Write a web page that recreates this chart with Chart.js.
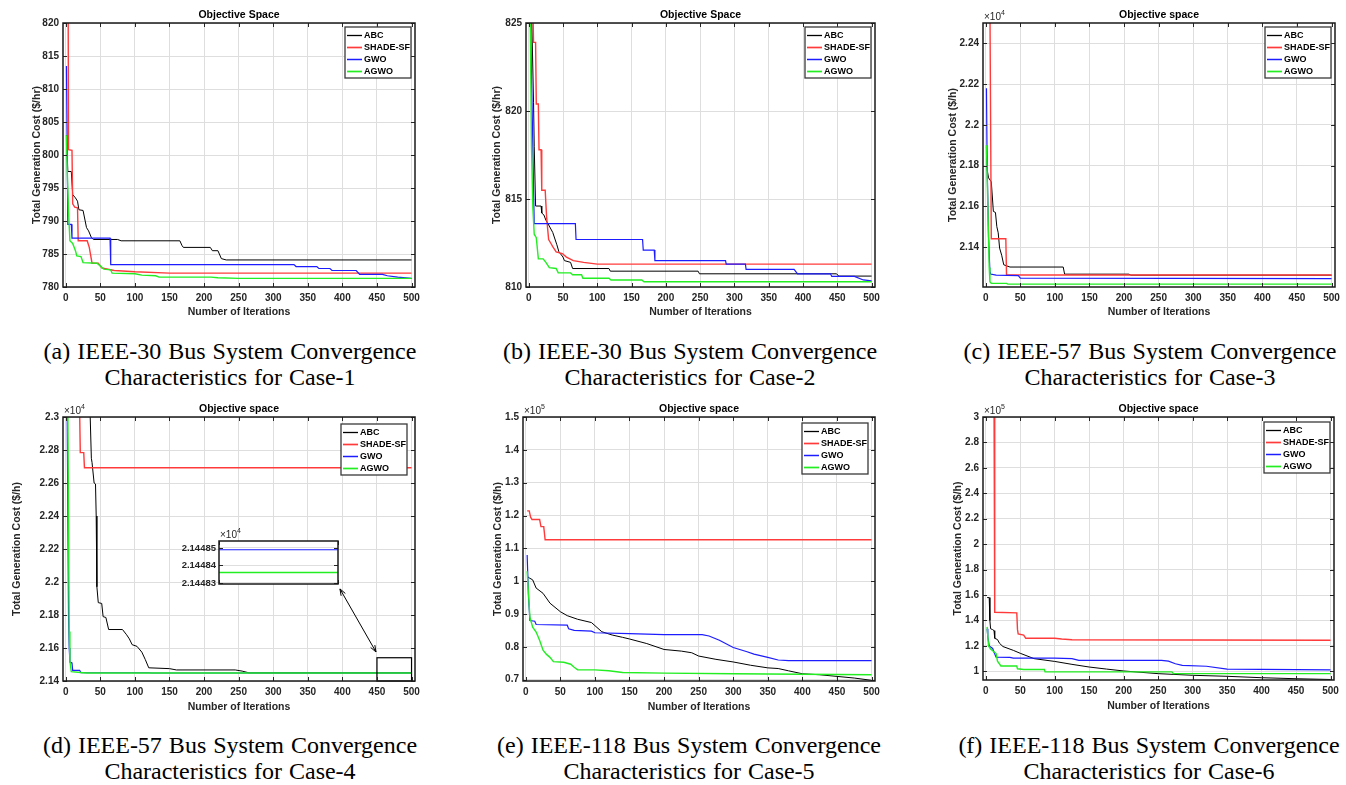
<!DOCTYPE html>
<html>
<head>
<meta charset="utf-8">
<script src="https://cdn.jsdelivr.net/npm/chart.js@4.4.1/dist/chart.umd.min.js"></script>
<style>
    body { margin: 0; background: #fff; width: 1346px; height: 785px; position: relative; overflow: hidden; }
    canvas { position: absolute; }
    .cap {
        position: absolute; width: 440px; text-align: center; white-space: nowrap;
        font-family: "Liberation Serif", "Times New Roman", serif; font-size: 24px; line-height: 26px;
        word-spacing: 1px; color: #000;
    }
</style>
</head>
<body>
<div class="cap" style="left:10px;top:338px">(a) IEEE-30 Bus System Convergence<br>Characteristics for Case-1</div>
<div class="cap" style="left:470px;top:338px">(b) IEEE-30 Bus System Convergence<br>Characteristics for Case-2</div>
<div class="cap" style="left:930px;top:338px">(c) IEEE-57 Bus System Convergence<br>Characteristics for Case-3</div>
<div class="cap" style="left:10px;top:732px">(d) IEEE-57 Bus System Convergence<br>Characteristics for Case-4</div>
<div class="cap" style="left:469px;top:732px">(e) IEEE-118 Bus System Convergence<br>Characteristics for Case-5</div>
<div class="cap" style="left:929px;top:732px">(f) IEEE-118 Bus System Convergence<br>Characteristics for Case-6</div>
<script>
'use strict';

// Series order everywhere: ABC, SHADE-SF, GWO, AGWO
var seriesNames = ['ABC', 'SHADE-SF', 'GWO', 'AGWO'];
var iterTicks = [0, 50, 100, 150, 200, 250, 300, 350, 400, 450, 500];

// (a) IEEE-30, Case-1  -- [iteration, cost]
var aAbc = [[1,803],[3,797.5],[8,797.5],[10,794],[14,793.5],[17,793],[19,791.7],[25,791.6],[30,789],[33,788.5],[37,787.5],[40,787.2],[75,787.2],[80,787],[165,787],[168,786.3],[170,786],[209,786],[212,785.5],[220,785.5],[225,784.3],[232,784.1],[500,784.1]];
var aShade = [[3,840],[4,800.8],[9,800.7],[10,792.6],[13,792.1],[17,792],[18,787],[31,787],[34,786],[38,783.6],[47,783.6],[52,782.9],[70,782.5],[100,782.3],[150,782.1],[500,782.1]];
var aGwo = [[1,813.5],[3,789.5],[8,789.5],[9,787.4],[64,787.4],[65,783.4],[330,783.4],[333,783.1],[363,783.1],[366,782.8],[382,782.8],[385,782.5],[420,782.5],[425,781.9],[458,781.9],[465,781.7],[480,781.5],[500,781.3]];
var aAgwo = [[1,803],[2,798],[4,791.5],[6,787],[10,786.6],[14,785.5],[16,784.7],[22,784.6],[25,783.7],[45,783.6],[50,783.2],[55,782.7],[65,782.6],[67,782.1],[100,782],[110,781.8],[130,781.7],[135,781.5],[210,781.5],[220,781.4],[250,781.3],[500,781.3]];
var aYTicks = [780, 785, 790, 795, 800, 805, 810, 815, 820];

// (b) IEEE-30, Case-2
var bAbc = [[4,826],[7,820.5],[8,818],[10,814.6],[18,814.6],[19,814.2],[22,814.1],[25,813.8],[28,813.6],[35,813.1],[41,812.4],[44,812],[50,811.7],[52,811.5],[61,811.4],[64,811.05],[117,811.05],[119,810.9],[247,810.9],[249,810.75],[449,810.75],[452,810.62],[500,810.62]];
var bShade = [[6,826],[7,823.9],[10,823.9],[11,820.4],[14,820.4],[15,817.8],[18,817.8],[19,815.5],[24,815.5],[26,814],[29,812.7],[32,812.5],[35,812.3],[40,812],[49,811.9],[55,811.7],[65,811.5],[80,811.4],[100,811.3],[500,811.3]];
var bGwo = [[2,826],[5,820],[8,813.6],[68,813.6],[69,812.7],[166,812.7],[167,812.1],[183,812.1],[184,811.5],[287,811.5],[288,811.3],[316,811.3],[317,811],[387,811],[392,810.75],[440,810.75],[442,810.6],[475,810.6],[488,810.4],[500,810.35]];
var bAgwo = [[2,826],[4,818],[6,814.5],[8,813],[11,812.8],[14,811.6],[21,811.6],[25,811.4],[30,811.1],[40,811.05],[43,810.8],[61,810.8],[64,810.7],[77,810.7],[79,810.5],[117,810.5],[120,810.4],[165,810.4],[168,810.3],[500,810.3]];
var bYTicks = [810, 815, 820, 825];

// (c) IEEE-57, Case-3
var cAbc = [[1,21890],[2,21780],[4,21740],[8,21720],[11,21575],[14,21570],[16,21500],[18,21470],[20,21395],[23,21360],[26,21313],[35,21302],[112,21302],[114,21267],[207,21267],[210,21262],[500,21262]];
var cShade = [[6,22600],[8,21441],[29,21441],[30,21263],[500,21263]];
var cGwo = [[1,22180],[2,21800],[4,21450],[6,21280],[7,21268],[15,21262],[47,21260],[50,21248],[500,21245]];
var cAgwo = [[1,21900],[3,21600],[5,21300],[6,21230],[8,21222],[30,21222],[32,21218],[500,21218]];
var cYTicks = [21400, 21600, 21800, 22000, 22200, 22400];

// (d) IEEE-57, Case-4
var dAbc = [[35,23050],[37,22750],[38,22724],[41,22600],[43,22594],[44,22400],[45,21971],[47,21875],[52,21870],[54,21790],[58,21785],[62,21712],[82,21712],[88,21680],[92,21655],[96,21620],[103,21610],[110,21575],[115,21530],[120,21480],[150,21475],[160,21467],[245,21467],[255,21460],[265,21449.5],[500,21449.5]];
var dShade = [[20,23050],[21,22784],[26,22784],[27,22692],[500,22692]];
var dGwo = [[2,23050],[4,21800],[5,21600],[6,21515],[9,21510],[10,21465],[20,21465],[22,21451],[120,21450],[125,21448.49],[500,21448.49]];
var dAgwo = [[3,23050],[5,21700],[6,21520],[8,21457],[25,21450],[30,21448.36],[500,21448.36]];
var dYTicks = [21400, 21600, 21800, 22000, 22200, 22400, 22600, 22800, 23000];
var insetYTicks = [21448.3, 21448.4, 21448.5];

// (e) IEEE-118, Case-5
var eAbc = [[2,101500],[5,101000],[10,100400],[15,97900],[25,96300],[35,93300],[50,90700],[60,89500],[75,88400],[95,87400],[110,84600],[125,83600],[140,82900],[150,82400],[175,81000],[200,79200],[225,78700],[240,78200],[250,77200],[275,76200],[300,75400],[325,74400],[350,73600],[365,73400],[380,72700],[400,71800],[425,71500],[450,71000],[475,70500],[500,69800]];
var eShade = [[2,121400],[5,121400],[7,119500],[9,118800],[20,118800],[22,116600],[26,116600],[28,112600],[500,112600]];
var eGwo = [[2,108000],[4,95000],[6,88000],[13,87800],[15,86800],[60,86600],[62,85500],[70,85000],[95,84800],[100,84300],[150,84000],[200,83700],[255,83700],[265,83300],[280,82000],[300,79800],[320,78500],[330,77800],[350,76800],[365,76000],[380,75800],[500,75800]];
var eAgwo = [[2,103000],[4,96000],[6,89000],[10,86000],[15,84500],[20,82000],[25,79000],[30,77700],[35,76800],[40,75500],[55,75300],[65,74700],[70,73800],[75,73000],[100,73000],[120,72700],[140,72200],[200,72000],[300,71800],[500,71500]];
var eYTicks = [70000, 80000, 90000, 100000, 110000, 120000, 130000, 140000, 150000];

// (f) IEEE-118, Case-6
var fAbc = [[2,158000],[5,158000],[6,140000],[7,133500],[10,132800],[12,132000],[13,126000],[17,125000],[20,122000],[25,119500],[40,116500],[50,114200],[70,110000],[100,107800],[125,105500],[150,103400],[175,101800],[200,100300],[250,98200],[300,96900],[350,96100],[400,95000],[450,94200],[500,93600]];
var fShade = [[12,310000],[13,146500],[45,146000],[46,133000],[47,129500],[55,128500],[58,126000],[100,126000],[110,125400],[125,124800],[500,124500]];
var fGwo = [[2,133500],[3,127000],[5,120000],[10,118000],[12,115000],[15,111200],[35,111000],[40,110400],[100,110400],[125,110000],[135,108700],[255,108700],[265,108000],[275,106000],[285,104700],[320,104000],[350,101800],[500,101200]];
var fAgwo = [[2,135000],[4,120000],[7,117500],[15,114000],[17,108000],[22,104200],[45,104200],[46,102000],[55,101500],[85,101500],[86,99600],[270,99600],[272,98200],[500,98200]];
var fYTicks = [100000, 120000, 140000, 160000, 180000, 200000, 220000, 240000, 260000, 280000, 300000];

// styles
var FONT = '"Liberation Sans", Arial, Helvetica, sans-serif';
var TEXT = '#262626';
var lineColors = ['#000000', '#ff3a3a', '#1c1cff', '#22ee22'];
var lineWidths = [1, 1.4, 1.2, 1.4];

function toDataset(pts, i) {
    return {
        label: seriesNames[i],
        data: pts.map(function(p) { return { x: p[0], y: p[1] }; }),
        borderColor: lineColors[i],
        borderWidth: lineWidths[i],
        pointRadius: 0,
        tension: 0,
        fill: false,
        order: 4 - i
    };
}

function drawArrowHead(ctx, x, y, ang) {
    var len = 7, spread = 0.35;
    ctx.beginPath();
    ctx.moveTo(x - len * Math.cos(ang - spread), y - len * Math.sin(ang - spread));
    ctx.lineTo(x, y);
    ctx.lineTo(x - len * Math.cos(ang + spread), y - len * Math.sin(ang + spread));
    ctx.stroke();
}

// MATLAB-like axes: box, inward ticks, titles, exponent, legend, annotations
var matlabAxes = {
    id: 'matlabAxes',
    beforeDraw: function(chart) {
        var p = chart.canvas._panel, a = chart.chartArea, ctx = chart.ctx;
        if (p && p.whiteArea) {
            ctx.save();
            ctx.fillStyle = '#fff';
            ctx.fillRect(a.left, a.top, a.right - a.left, a.bottom - a.top);
            ctx.restore();
        }
    },
    afterDraw: function(chart) {
        var p = chart.canvas._panel;
        if (!p) return;
        var ctx = chart.ctx, a = chart.chartArea;
        var xs = chart.scales.x, ys = chart.scales.y;
        var cx = (a.left + a.right) / 2, cy = (a.top + a.bottom) / 2;
        ctx.save();

        // zoom box + arrow (panel d)
        if (p.zoomBox) {
            var b = p.zoomBox;
            var x0 = xs.getPixelForValue(b[0]), x1 = xs.getPixelForValue(b[1]);
            var y0 = ys.getPixelForValue(b[2]), y1 = ys.getPixelForValue(b[3]);
            ctx.strokeStyle = '#000';
            ctx.lineWidth = 1.2;
            ctx.strokeRect(x0, y1, x1 - x0, y0 - y1);
        }
        if (p.arrow) {
            var ax0 = xs.getPixelForValue(p.arrow[0]), ay0 = ys.getPixelForValue(p.arrow[1]);
            var ax1 = xs.getPixelForValue(p.arrow[2]), ay1 = ys.getPixelForValue(p.arrow[3]);
            ctx.strokeStyle = '#000';
            ctx.lineWidth = 1;
            ctx.beginPath();
            ctx.moveTo(ax0, ay0);
            ctx.lineTo(ax1, ay1);
            ctx.stroke();
            var ang = Math.atan2(ay1 - ay0, ax1 - ax0);
            drawArrowHead(ctx, ax1, ay1, ang);
            drawArrowHead(ctx, ax0, ay0, ang + Math.PI);
        }

        // inward tick marks on all four sides
        ctx.strokeStyle = TEXT;
        ctx.lineWidth = 1;
        ctx.beginPath();
        xs.ticks.forEach(function(t) {
            var x = Math.round(xs.getPixelForValue(t.value)) + 0.5;
            ctx.moveTo(x, a.bottom); ctx.lineTo(x, a.bottom - 4);
            ctx.moveTo(x, a.top); ctx.lineTo(x, a.top + 4);
        });
        ys.ticks.forEach(function(t) {
            var y = Math.round(ys.getPixelForValue(t.value)) + 0.5;
            ctx.moveTo(a.left, y); ctx.lineTo(a.left + 4, y);
            ctx.moveTo(a.right, y); ctx.lineTo(a.right - 4, y);
        });
        ctx.stroke();

        // box
        ctx.strokeStyle = '#1a1a1a';
        ctx.lineWidth = 1.5;
        ctx.strokeRect(a.left, a.top, a.right - a.left, a.bottom - a.top);

        // titles
        ctx.textAlign = 'center';
        ctx.textBaseline = 'middle';
        ctx.font = 'bold 10.5px ' + FONT;
        if (p.title) {
            ctx.fillStyle = '#000';
            ctx.fillText(p.title, cx, a.top - 8);
        }
        ctx.fillStyle = TEXT;
        if (p.xTitle) ctx.fillText(p.xTitle, cx, a.bottom + p.xTitleDy);
        if (p.yTitle) {
            ctx.save();
            ctx.translate(a.left - p.yTitleDx, cy);
            ctx.rotate(-Math.PI / 2);
            ctx.fillText(p.yTitle, 0, 0);
            ctx.restore();
        }

        // x10^n exponent
        if (p.exp) {
            ctx.textAlign = 'left';
            ctx.textBaseline = 'alphabetic';
            ctx.font = '10px ' + FONT;
            ctx.fillText('\u00d710', a.left + 1, a.top - 3);
            var w = ctx.measureText('\u00d710').width;
            ctx.font = '7px ' + FONT;
            ctx.fillText(p.exp, a.left + 1 + w, a.top - 8);
        }

        // legend box, top right inside the axes
        if (p.legend) {
            var lw = 66, lh = 51;
            var lx = a.right - p.legendDx - lw, ly = a.top + p.legendDy;
            ctx.fillStyle = '#fff';
            ctx.fillRect(lx, ly, lw, lh);
            ctx.strokeStyle = '#3a3a3a';
            ctx.lineWidth = 1.3;
            ctx.strokeRect(lx, ly, lw, lh);
            ctx.font = 'bold 9px ' + FONT;
            ctx.textAlign = 'left';
            ctx.textBaseline = 'middle';
            chart.data.datasets.forEach(function(ds, i) {
                var y = ly + 8.5 + i * 12;
                ctx.strokeStyle = ds.borderColor;
                ctx.lineWidth = ds.borderWidth + 0.3;
                ctx.beginPath();
                ctx.moveTo(lx + 2, y);
                ctx.lineTo(lx + 17, y);
                ctx.stroke();
                ctx.fillStyle = '#000';
                ctx.fillText(ds.label, lx + 19, y + 0.5);
            });
        }
        ctx.restore();
    }
};
Chart.register(matlabAxes);

function fmt(scale) {
    return function(v) {
        return String(parseFloat((v / scale).toPrecision(6)));
    };
}

// rect = plot area in page pixels [left, top, right, bottom]
function makePanel(p) {
    var L = p.L || 62, T = p.T || 23, R = p.R || 10, B = p.B || 35;
    var pw = p.rect[2] - p.rect[0], ph = p.rect[3] - p.rect[1];
    var cv = document.createElement('canvas');
    cv.width = pw + L + R;
    cv.height = ph + T + B;
    cv.style.left = (p.rect[0] - L) + 'px';
    cv.style.top = (p.rect[1] - T) + 'px';
    cv.style.width = cv.width + 'px';
    cv.style.height = cv.height + 'px';
    cv._panel = p;
    document.body.appendChild(cv);

    var tickFont = { family: FONT, size: p.tickSize || 10, weight: 'bold' };
    new Chart(cv.getContext('2d'), {
        type: 'line',
        data: { datasets: p.series.map(function(s) { return toDataset(s[0], s[1]); }) },
        options: {
            responsive: false,
            animation: false,
            devicePixelRatio: 1,
            layout: { padding: { left: 0, top: T, right: R, bottom: 0 } },
            plugins: { legend: { display: false }, tooltip: { enabled: false } },
            scales: {
                x: {
                    type: 'linear',
                    min: p.xMin, max: p.xMax,
                    afterBuildTicks: function(s) { s.ticks = p.xTicks.map(function(v) { return { value: v }; }); },
                    afterFit: function(s) { s.height = B; s.paddingLeft = s.paddingRight = s.paddingTop = s.paddingBottom = 0; },
                    grid: { display: p.xGrid !== false, color: '#dedede', lineWidth: 1, drawTicks: false },
                    border: { display: false },
                    ticks: { display: p.xLabels !== false, padding: 5, color: TEXT, font: tickFont, maxRotation: 0, autoSkip: false }
                },
                y: {
                    type: 'linear',
                    min: p.yMin, max: p.yMax,
                    afterBuildTicks: function(s) { s.ticks = p.yTicks.map(function(v) { return { value: v }; }); },
                    afterFit: function(s) { s.width = L; s.paddingLeft = s.paddingRight = s.paddingTop = s.paddingBottom = 0; },
                    grid: { color: '#dedede', lineWidth: 1, drawTicks: false },
                    border: { display: false },
                    ticks: { padding: p.yPad || 4, color: TEXT, font: tickFont, autoSkip: false, callback: fmt(p.yScale || 1) }
                }
            }
        }
    });
}

var all4 = function(a, b, c, d) { return [[a, 0], [b, 1], [c, 2], [d, 3]]; };

makePanel({ rect: [63, 23, 415, 287], series: all4(aAbc, aShade, aGwo, aAgwo),
    xMin: -4, xMax: 505, xTicks: iterTicks, yMin: 780, yMax: 820, yTicks: aYTicks,
    title: 'Objective Space', xTitle: 'Number of Iterations', xTitleDy: 25,
    yTitle: 'Total Generation Cost ($/hr)', yTitleDx: 26, legend: true, legendDx: 4, legendDy: 4 });

makePanel({ rect: [526, 23, 875, 287], series: all4(bAbc, bShade, bGwo, bAgwo),
    xMin: -4, xMax: 505, xTicks: iterTicks, yMin: 810, yMax: 825, yTicks: bYTicks,
    title: 'Objective Space', xTitle: 'Number of Iterations', xTitleDy: 25,
    yTitle: 'Total Generation Cost ($/hr)', yTitleDx: 29, legend: true, legendDx: 4, legendDy: 4 });

makePanel({ rect: [983, 23, 1335, 287], series: all4(cAbc, cShade, cGwo, cAgwo),
    xMin: -4, xMax: 505, xTicks: iterTicks, yMin: 21204, yMax: 22500, yTicks: cYTicks, yScale: 1e4, exp: '4',
    title: 'Objective space', xTitle: 'Number of Iterations', xTitleDy: 25,
    yTitle: 'Total Generation Cost ($/h)', yTitleDx: 30, legend: true, legendDx: 4, legendDy: 4 });

makePanel({ rect: [63, 417, 415, 681], series: all4(dAbc, dShade, dGwo, dAgwo),
    xMin: -4, xMax: 505, xTicks: iterTicks, yMin: 21400, yMax: 23000, yTicks: dYTicks, yScale: 1e4, exp: '4',
    title: 'Objective space', xTitle: 'Number of Iterations', xTitleDy: 26,
    yTitle: 'Total Generation Cost ($/h)', yTitleDx: 46, legend: true, legendDx: 8, legendDy: 7,
    zoomBox: [450, 500, 21400, 21541], arrow: [396.5, 21958, 448.6, 21576] });

// zoomed inset of the last 50 iterations in (d)
makePanel({ rect: [219, 541, 338, 584], L: 52, T: 16, R: 2, B: 2, whiteArea: true, tickSize: 9.5, yPad: 3,
    series: [[dGwo, 2], [dAgwo, 3]],
    xMin: 450, xMax: 500, xTicks: [450, 500], xGrid: false, xLabels: false,
    yMin: 21448.294, yMax: 21448.54, yTicks: insetYTicks, yScale: 1e4, exp: '4' });

makePanel({ rect: [523, 417, 875, 681], series: all4(eAbc, eShade, eGwo, eAgwo),
    xMin: -4, xMax: 505, xTicks: iterTicks, yMin: 69600, yMax: 150000, yTicks: eYTicks, yScale: 1e5, exp: '5',
    title: 'Objective space', xTitle: 'Number of Iterations', xTitleDy: 26,
    yTitle: 'Total Generation Cost ($/h)', yTitleDx: 25, legend: true, legendDx: 7, legendDy: 6 });

makePanel({ rect: [983, 417, 1334, 680], series: all4(fAbc, fShade, fGwo, fAgwo),
    xMin: -4, xMax: 505, xTicks: iterTicks, yMin: 93200, yMax: 300000, yTicks: fYTicks, yScale: 1e5, exp: '5',
    title: 'Objective space', xTitle: 'Number of Iterations', xTitleDy: 26,
    yTitle: 'Total Generation Cost ($/h)', yTitleDx: 25, legend: true, legendDx: 4, legendDy: 5 });
</script>
</body>
</html>
